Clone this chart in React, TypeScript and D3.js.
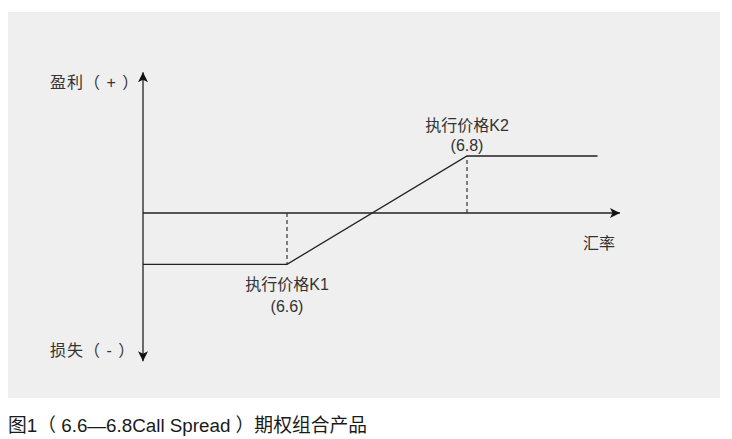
import * as d3 from "d3";
import * as React from "react";

// payoff of the 6.6-6.8 call spread: exchange rate -> profit/loss
const rates = [6.44, 6.6, 6.8, 6.945];
const payoffs = [-0.9, -0.9, 1, 1];
const strikes = [
  { rate: 6.6, label: "执行价格K1", value: "(6.6)" },
  { rate: 6.8, label: "执行价格K2", value: "(6.8)" },
];
const axisLabels = { up: "盈利（ + ）", down: "损失（ - ）", x: "汇率" };
const caption = "图1（ 6.6—6.8Call Spread ）期权组合产品";

const W = 732;
const H = 439;
const FONT = "'Liberation Sans', 'Noto Sans CJK SC', sans-serif";

export default function App() {
  const ref = React.useRef<SVGSVGElement>(null);

  React.useEffect(() => {
    const svg = d3.select(ref.current as SVGSVGElement);
    svg.selectAll("*").remove();

    const x = d3.scaleLinear().domain([6.44, 6.97]).range([143, 620]);
    const y = d3.scaleLinear().domain([-1, 1]).range([270, 156]);

    // background panel
    svg
      .append("rect")
      .attr("x", 8)
      .attr("y", 12)
      .attr("width", 712)
      .attr("height", 386)
      .attr("fill", "#efefef");

    const defs = svg.append("defs");
    defs
      .append("marker")
      .attr("id", "arrow")
      .attr("viewBox", "0 0 10 10")
      .attr("refX", 10)
      .attr("refY", 5)
      .attr("markerWidth", 10)
      .attr("markerHeight", 10)
      .attr("markerUnits", "userSpaceOnUse")
      .attr("orient", "auto")
      .append("path")
      .attr("d", "M0,0 L10,5 L0,10 L2.5,5 Z")
      .attr("fill", "#111");

    const g = svg.append("g");

    // x axis
    g.append("line")
      .attr("x1", x(6.44))
      .attr("x2", x(6.97))
      .attr("y1", y(0))
      .attr("y2", y(0))
      .attr("stroke", "#222")
      .attr("stroke-width", 1.3)
      .attr("marker-end", "url(#arrow)");

    // y axis, both directions
    g.append("line")
      .attr("x1", x(6.44))
      .attr("x2", x(6.44))
      .attr("y1", y(0))
      .attr("y2", y(2.47))
      .attr("stroke", "#222")
      .attr("stroke-width", 1.3)
      .attr("marker-end", "url(#arrow)");
    g.append("line")
      .attr("x1", x(6.44))
      .attr("x2", x(6.44))
      .attr("y1", y(0))
      .attr("y2", y(-2.6))
      .attr("stroke", "#222")
      .attr("stroke-width", 1.3)
      .attr("marker-end", "url(#arrow)");

    // strike dashed lines
    g.selectAll("line.strike")
      .data(strikes)
      .enter()
      .append("line")
      .attr("class", "strike")
      .attr("x1", (d) => x(d.rate))
      .attr("x2", (d) => x(d.rate))
      .attr("y1", y(0))
      .attr("y2", (d) => y(payoffs[rates.indexOf(d.rate)]))
      .attr("stroke", "#333")
      .attr("stroke-width", 1.2)
      .attr("stroke-dasharray", "4,3");

    // payoff line
    const line = d3
      .line<number>()
      .x((d, i) => x(rates[i]))
      .y((d) => y(d));
    g.append("path")
      .attr("d", line(payoffs))
      .attr("fill", "none")
      .attr("stroke", "#222")
      .attr("stroke-width", 1.3);

    const text = (tx: number, ty: number, s: string, anchor = "start", size = 16) =>
      g
        .append("text")
        .attr("x", tx)
        .attr("y", ty)
        .attr("text-anchor", anchor)
        .attr("font-family", FONT)
        .attr("font-size", size)
        .attr("fill", "#333")
        .attr("xml:space", "preserve")
        .style("white-space", "pre")
        .text(s);

    // strike labels: K1 below the line, K2 above
    strikes.forEach((d, i) => {
      const px = x(d.rate);
      if (i === 0) {
        text(px, 290, d.label, "middle");
        text(px, 312, d.value, "middle");
      } else {
        text(px, 131, d.label, "middle");
        text(px, 151, d.value, "middle");
      }
    });

    text(50, 88, axisLabels.up).attr("letter-spacing", 1);
    text(50, 356, axisLabels.down).attr("letter-spacing", 1);
    text(583, 249, axisLabels.x);

    text(8, 432, caption, "start", 18.8).attr("fill", "#1a1a1a");
  }, []);

  return <svg ref={ref} width={W} height={H} style={{ position: "absolute", left: 0, top: 0 }} />;
}
